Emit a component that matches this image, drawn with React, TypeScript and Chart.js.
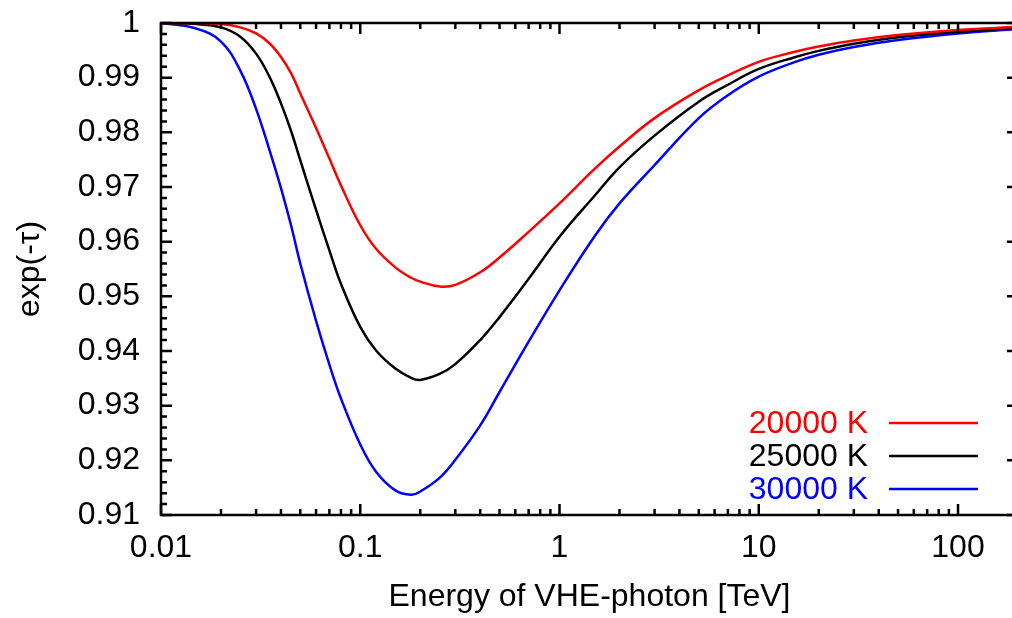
import React, { useEffect, useRef } from 'react';
import { Chart, registerables } from 'chart.js';

Chart.register(...registerables);

// ---- data ----
const energyTeV = [
  0.01, 0.015, 0.02, 0.025, 0.03, 0.035, 0.04, 0.045, 0.05, 0.06, 0.07, 0.08,
  0.1, 0.12, 0.15, 0.18, 0.2, 0.25, 0.3, 0.4, 0.5, 0.7, 1, 1.5, 2, 3, 5, 7, 10,
  15, 20, 30, 50, 100, 200,
];
const temp20000K = [
  1.0, 1.0, 0.9998, 0.9992, 0.9981, 0.9963, 0.9938, 0.9908, 0.9871, 0.9808,
  0.9752, 0.9703, 0.963, 0.9587, 0.9553, 0.9534, 0.9527, 0.9518, 0.9521,
  0.9544, 0.9571, 0.9618, 0.967, 0.9733, 0.9774, 0.9826, 0.9877, 0.9904,
  0.9929, 0.9947, 0.9957, 0.9968, 0.9978, 0.9987, 0.9993,
];
const temp25000K = [
  1.0, 0.9998, 0.9992, 0.9975, 0.9944, 0.9902, 0.9853, 0.9802, 0.9749, 0.9658,
  0.9584, 0.9523, 0.9444, 0.9401, 0.9368, 0.9351, 0.9347, 0.9358, 0.9376,
  0.942, 0.9462, 0.9532, 0.9609, 0.9684, 0.9736, 0.9794, 0.9856, 0.9887,
  0.9916, 0.9937, 0.9949, 0.9962, 0.9974, 0.9984, 0.9991,
];
const temp30000K = [
  1.0, 0.999, 0.9966, 0.9913, 0.9843, 0.9768, 0.9698, 0.9629, 0.956, 0.9455,
  0.9375, 0.9313, 0.9229, 0.9179, 0.9145, 0.9137, 0.9143, 0.9168, 0.9201,
  0.9264, 0.9325, 0.9417, 0.9511, 0.961, 0.967, 0.974, 0.9826, 0.9868, 0.9902,
  0.9928, 0.9942, 0.9956, 0.9969, 0.9981, 0.9989,
];
const seriesLabels = ['20000 K', '25000 K', '30000 K'];
const seriesColors = ['#ff0000', '#000000', '#0000ff'];
const seriesValues = [temp20000K, temp25000K, temp30000K];

const xMajorTicks = [0.01, 0.1, 1, 10, 100];
const xMinorMultipliers = [2, 3, 4, 5, 6, 7, 8, 9];
const yMajorTicks = [0.91, 0.92, 0.93, 0.94, 0.95, 0.96, 0.97, 0.98, 0.99, 1.0];
const yMinorPerMajor = 5;
const xRange = [0.01, 200];
const yRange = [0.91, 1.0];
const xTitle = 'Energy of VHE-photon [TeV]';
const yTitle = 'exp(-τ)';

const FONT = '"Liberation Sans", Arial, Helvetica, sans-serif';

const framePlugin = {
  id: 'gnuplotFrame',
  afterDatasetsDraw(chart: any) {
    const { ctx, chartArea } = chart;
    const xs = chart.scales.x;
    const ys = chart.scales.y;
    const { left, right, top, bottom } = chartArea;
    const major = 11;
    const minor = 6;
    ctx.save();
    ctx.strokeStyle = '#000';
    ctx.lineWidth = 2.5;
    ctx.lineCap = 'butt';
    ctx.beginPath();
    const xTick = (v: number, len: number) => {
      const px = xs.getPixelForValue(v);
      if (px < left - 0.5 || px > right + 0.5) return;
      ctx.moveTo(px, bottom);
      ctx.lineTo(px, bottom - len);
      ctx.moveTo(px, top);
      ctx.lineTo(px, top + len);
    };
    xMajorTicks.forEach((d) => {
      xTick(d, major);
      xMinorMultipliers.forEach((m) => {
        const v = d * m;
        if (v <= xRange[1]) xTick(v, minor);
      });
    });
    const yTick = (v: number, len: number) => {
      const py = ys.getPixelForValue(v);
      ctx.moveTo(left, py);
      ctx.lineTo(left + len, py);
      ctx.moveTo(right, py);
      ctx.lineTo(right - len, py);
    };
    yMajorTicks.forEach((v, i) => {
      yTick(v, major);
      if (i < yMajorTicks.length - 1) {
        const step = (yMajorTicks[i + 1] - v) / yMinorPerMajor;
        for (let k = 1; k < yMinorPerMajor; k++) yTick(v + k * step, minor);
      }
    });
    ctx.stroke();
    ctx.strokeRect(left, top, right - left, bottom - top);
    ctx.restore();
  },
  afterDraw(chart: any) {
    const { ctx, chartArea } = chart;
    const offsets = [92, 59, 26];
    ctx.save();
    ctx.font = `32px ${FONT}`;
    ctx.textAlign = 'right';
    ctx.textBaseline = 'middle';
    chart.data.datasets.forEach((ds: any, i: number) => {
      const y = chartArea.bottom - offsets[i];
      ctx.fillStyle = ds.borderColor;
      ctx.fillText(ds.label, chartArea.right - 150, y + 1);
      ctx.strokeStyle = ds.borderColor;
      ctx.lineWidth = 2.5;
      ctx.beginPath();
      ctx.moveTo(chartArea.right - 129, y);
      ctx.lineTo(chartArea.right - 40, y);
      ctx.stroke();
    });
    ctx.restore();
  },
};

export default function App() {
  const canvasRef = useRef<HTMLCanvasElement | null>(null);

  useEffect(() => {
    const canvas = canvasRef.current;
    if (!canvas) return;
    const chart = new Chart(canvas, {
      type: 'line',
      data: {
        datasets: seriesValues.map((vals, i) => ({
          label: seriesLabels[i],
          data: energyTeV.map((e, j) => ({ x: e, y: vals[j] })),
          borderColor: seriesColors[i],
          backgroundColor: seriesColors[i],
          borderWidth: 2.5,
          pointRadius: 0,
          tension: 0.4,
          fill: false,
        })),
      },
      options: {
        animation: false,
        responsive: false,
        devicePixelRatio: 1,
        layout: { padding: { top: 23, right: 12, left: 0, bottom: 0 } },
        plugins: {
          legend: { display: false },
          tooltip: { enabled: false },
        },
        scales: {
          x: {
            type: 'logarithmic',
            min: xRange[0],
            max: xRange[1],
            grid: { display: false, drawTicks: false },
            border: { display: false },
            afterBuildTicks: (scale: any) => {
              scale.ticks = xMajorTicks.map((v) => ({ value: v }));
            },
            afterFit: (scale: any) => {
              scale.height = 103;
              scale.paddingLeft = 0;
              scale.paddingRight = 0;
            },
            ticks: {
              autoSkip: false,
              maxRotation: 0,
              minRotation: 0,
              padding: 14,
              color: '#000',
              font: { family: FONT, size: 32 },
              callback: (v: any) => String(Number(v)),
            },
            title: {
              display: true,
              text: xTitle,
              color: '#000',
              font: { family: FONT, size: 32 },
              padding: { top: 0, bottom: 2 },
            },
          },
          y: {
            type: 'linear',
            min: yRange[0],
            max: yRange[1],
            grid: { display: false, drawTicks: false },
            border: { display: false },
            afterBuildTicks: (scale: any) => {
              scale.ticks = yMajorTicks.map((v) => ({ value: v }));
            },
            afterFit: (scale: any) => {
              scale.width = 161;
              scale.paddingTop = 0;
              scale.paddingBottom = 0;
            },
            ticks: {
              autoSkip: false,
              padding: 21,
              color: '#000',
              font: { family: FONT, size: 32 },
              callback: (v: any) => {
                const s = Number(v).toFixed(2);
                return s === '1.00' ? '1' : s;
              },
            },
            title: {
              display: true,
              text: yTitle,
              color: '#000',
              font: { family: FONT, size: 32 },
              padding: { top: 11, bottom: 0 },
            },
          },
        },
      },
      plugins: [framePlugin],
    });
    return () => chart.destroy();
  }, []);

  return (
    <div
      style={{
        position: 'fixed',
        left: 0,
        top: 0,
        width: 1012,
        height: 618,
        overflow: 'hidden',
        background: '#fff',
      }}
    >
      <canvas
        ref={canvasRef}
        width={1030}
        height={618}
        style={{ width: 1030, height: 618, display: 'block' }}
      />
    </div>
  );
}
